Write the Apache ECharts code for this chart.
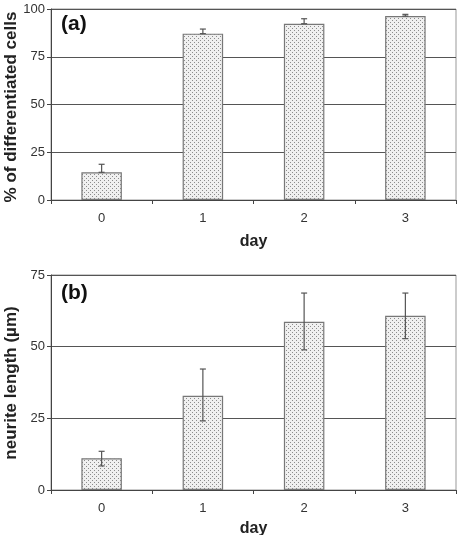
<!DOCTYPE html>
<html><head><meta charset="utf-8">
<script src="https://cdn.jsdelivr.net/npm/echarts@6/dist/echarts.min.js"></script>
<style>html,body{margin:0;padding:0;background:#fff}#c{width:463px;height:535px}</style>
</head><body><div id="c"></div>
<script>
var days = ['0', '1', '2', '3'];
var pctValues = [14.5, 87.1, 92.3, 96.3];
var pctErrUp = [18.7, 89.5, 94.9, 97.2];
var lenValues = [11.1, 32.9, 58.7, 60.8];
var lenErrUp = [13.5, 42.2, 68.7, 68.7];
var lenErrDown = [8.4, 24.1, 48.9, 52.8];
var pctTicks = [0, 25, 50, 75, 100];
var lenTicks = [0, 25, 50, 75];

var cv = document.createElement('canvas');
cv.width = 4; cv.height = 4;
var cx = cv.getContext('2d');
cx.fillStyle = '#f0f0f0'; cx.fillRect(0, 0, 4, 4);
cx.fillStyle = '#8c8c8c';
cx.fillRect(0, 0, 1, 1); cx.fillRect(2, 2, 1, 1);
var pattern = { image: cv, repeat: 'repeat' };

var chart = echarts.init(document.getElementById('c'), null, {renderer: 'canvas'});
var font = 'Liberation Sans, Arial, sans-serif';

function errRender(params, api) {
  var x = api.value(0);
  var hi = api.coord([x, api.value(1)]);
  var lo = api.coord([x, api.value(2)]);
  var w = 3;
  var style = { stroke: '#555', lineWidth: 1.2 };
  return { type: 'group', children: [
    { type: 'line', shape: { x1: hi[0], y1: hi[1], x2: lo[0], y2: lo[1] }, style: style },
    { type: 'line', shape: { x1: hi[0] - w, y1: hi[1], x2: hi[0] + w, y2: hi[1] }, style: style },
    { type: 'line', shape: { x1: lo[0] - w, y1: lo[1], x2: lo[0] + w, y2: lo[1] }, style: style }
  ]};
}

function xAx(gi) {
  return {
    type: 'category', gridIndex: gi, data: days,
    name: 'day', nameLocation: 'middle', nameGap: gi === 0 ? 34 : 31,
    nameTextStyle: { fontFamily: font, fontWeight: 'bold', fontSize: 16, color: '#222' },
    axisLine: { lineStyle: { color: '#444', width: 1 } },
    axisTick: { show: true, length: 4, lineStyle: { color: '#444' } },
    axisLabel: { fontFamily: font, fontSize: 13, color: '#333', margin: 12 }
  };
}
function yAx(gi, max) {
  return {
    type: 'value', gridIndex: gi, min: 0, max: max, interval: 25,
    axisLine: { show: true, lineStyle: { color: '#444', width: 1 } },
    axisTick: { show: true, length: 4, lineStyle: { color: '#444' } },
    axisLabel: { fontFamily: font, fontSize: 13, color: '#333', margin: 6 },
    splitLine: { show: true, lineStyle: { color: '#555', width: 1 } }
  };
}

var pctErrData = pctValues.map(function (v, i) { return [i, pctErrUp[i], v]; });
var lenErrData = lenValues.map(function (v, i) { return [i, lenErrUp[i], lenErrDown[i]]; });

var titleStyle = { fontFamily: font, fontWeight: 'bold', fontSize: 17, fill: '#222', align: 'center', verticalAlign: 'middle' };

chart.setOption({
  animation: false,
  backgroundColor: '#fff',
  grid: [
    { left: 51, right: 7, top: 9, height: 191, show: true, borderColor: '#999', borderWidth: 1, outerBoundsMode: 'none', containLabel: false },
    { left: 51, right: 7, top: 275, height: 215, show: true, borderColor: '#999', borderWidth: 1, outerBoundsMode: 'none', containLabel: false }
  ],
  xAxis: [xAx(0), xAx(1)],
  yAxis: [yAx(0, 100), yAx(1, 75)],
  graphic: [
    { type: 'text', left: 61, top: 14, style: { text: '(a)', fontFamily: font, fontWeight: 'bold', fontSize: 21, fill: '#111' } },
    { type: 'text', left: 61, top: 283, style: { text: '(b)', fontFamily: font, fontWeight: 'bold', fontSize: 21, fill: '#111' } },
    { type: 'text', x: 11, y: 107, rotation: Math.PI / 2, style: Object.assign({ text: '% of differentiated cells' }, titleStyle) },
    { type: 'text', x: 11, y: 383, rotation: Math.PI / 2, style: Object.assign({ text: 'neurite length (µm)' }, titleStyle) }
  ],
  series: [
    { type: 'bar', xAxisIndex: 0, yAxisIndex: 0, data: pctValues, barWidth: '40%',
      itemStyle: { color: pattern, borderColor: '#777', borderWidth: 1.2 } },
    { type: 'custom', xAxisIndex: 0, yAxisIndex: 0, data: pctErrData, renderItem: errRender, z: 3 },
    { type: 'bar', xAxisIndex: 1, yAxisIndex: 1, data: lenValues, barWidth: '40%',
      itemStyle: { color: pattern, borderColor: '#777', borderWidth: 1.2 } },
    { type: 'custom', xAxisIndex: 1, yAxisIndex: 1, data: lenErrData, renderItem: errRender, z: 3 }
  ]
});
</script>
</body></html>
